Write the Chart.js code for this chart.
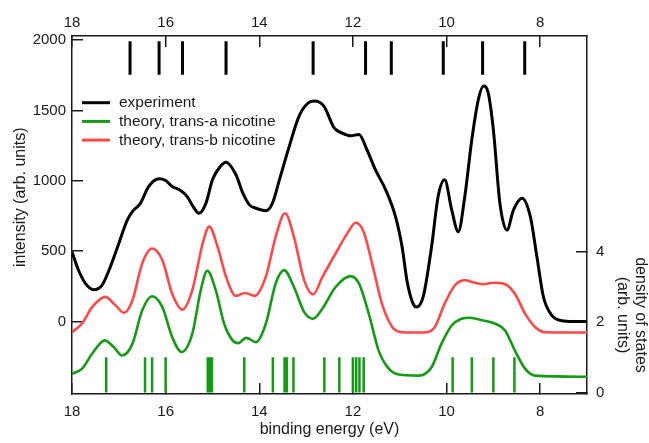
<!DOCTYPE html>
<html>
<head>
<meta charset="utf-8">
<script src="https://cdn.jsdelivr.net/npm/chart.js@4/dist/chart.umd.min.js"></script>
<style>
  body { margin: 0; background: #fff; }
</style>
</head>
<body>
<canvas id="myChart" width="649" height="443"></canvas>
<script>
// binding energy (eV) / intensity
const expEnergy = [18.0, 17.86, 17.71, 17.54, 17.36, 17.21, 17.0, 16.82, 16.71, 16.54, 16.36, 16.14, 16.0, 15.86, 15.68, 15.54, 15.39, 15.29, 15.14, 15.0, 14.85, 14.71, 14.5, 14.35, 14.21, 14.07, 13.86, 13.72, 13.57, 13.36, 13.15, 12.97, 12.83, 12.62, 12.4, 12.23, 12.05, 11.87, 11.7, 11.52, 11.3, 11.09, 10.95, 10.84, 10.72, 10.64, 10.5, 10.32, 10.18, 10.04, 9.89, 9.75, 9.61, 9.46, 9.32, 9.21, 9.11, 9.0, 8.86, 8.71, 8.57, 8.39, 8.21, 8.07, 7.93, 7.75, 7.54, 7.3, 7.0];
const expIntensity = [495, 364, 269, 226, 257, 364, 555, 721, 781, 840, 960, 1014, 1002, 960, 931, 888, 805, 769, 840, 1007, 1095, 1133, 1045, 912, 829, 805, 788, 840, 1007, 1245, 1460, 1550, 1567, 1531, 1376, 1340, 1321, 1329, 1221, 1079, 936, 745, 531, 280, 130, 102, 174, 531, 888, 1007, 793, 638, 888, 1293, 1579, 1674, 1626, 1364, 840, 650, 793, 876, 745, 460, 174, 43, 5, 0, 0];

// density of states, trans-a nicotine (green)
const transAEnergy = [18.0, 17.79, 17.57, 17.3, 17.11, 16.93, 16.71, 16.5, 16.29, 16.07, 15.86, 15.66, 15.43, 15.25, 15.11, 14.93, 14.75, 14.57, 14.45, 14.28, 14.07, 13.86, 13.65, 13.47, 13.26, 13.04, 12.85, 12.65, 12.37, 12.05, 11.87, 11.66, 11.45, 11.23, 11.02, 10.6, 10.32, 10.11, 9.89, 9.68, 9.5, 9.25, 8.96, 8.75, 8.54, 8.32, 8.11, 7.0];
const transADos = [0.53, 0.67, 1.10, 1.48, 1.29, 1.05, 1.38, 2.33, 2.73, 2.42, 1.57, 1.15, 1.67, 2.90, 3.45, 2.90, 1.95, 1.48, 1.40, 1.55, 1.43, 1.95, 3.09, 3.47, 2.99, 2.28, 2.09, 2.38, 2.99, 3.30, 3.09, 2.23, 1.19, 0.67, 0.51, 0.48, 0.72, 1.38, 1.90, 2.09, 2.12, 2.05, 1.95, 1.76, 1.19, 0.67, 0.48, 0.45];

// density of states, trans-b nicotine (red)
const transBEnergy = [18.0, 17.79, 17.57, 17.29, 17.07, 16.89, 16.71, 16.5, 16.29, 16.07, 15.86, 15.64, 15.43, 15.21, 15.07, 14.89, 14.71, 14.5, 14.3, 14.1, 13.86, 13.65, 13.45, 13.26, 13.04, 12.85, 12.65, 12.37, 12.12, 11.94, 11.77, 11.59, 11.38, 11.16, 10.95, 10.5, 10.25, 10.04, 9.82, 9.61, 9.39, 9.21, 9.0, 8.75, 8.54, 8.32, 8.11, 7.89, 7.0];
const transBDos = [1.71, 1.95, 2.42, 2.71, 2.47, 2.26, 2.61, 3.66, 4.08, 3.75, 2.80, 2.35, 2.90, 4.22, 4.70, 4.13, 3.28, 2.74, 2.82, 2.74, 3.28, 4.41, 5.08, 4.41, 3.18, 2.78, 3.28, 3.94, 4.51, 4.81, 4.55, 3.66, 2.52, 1.86, 1.71, 1.70, 1.86, 2.52, 3.04, 3.18, 3.11, 3.07, 3.11, 3.07, 2.80, 2.23, 1.86, 1.71, 1.70];

// stick spectra (eV) and their extent on the dos axis
const expSticks = [16.76, 16.14, 15.64, 14.71, 12.85, 11.73, 11.18, 10.07, 9.23, 8.33];
const expStickRange = [9.0, 9.95];
const transASticks = [17.27, 16.44, 16.29, 16.0, 15.10, 15.06, 15.01, 14.32, 13.71, 13.46, 13.41, 13.27, 12.61, 12.29, 12.0, 11.93, 11.86, 11.77, 9.87, 9.46, 9.0, 8.55];
const transAStickRange = [0, 1.0];

// ticks
const energyTicks = [18, 16, 14, 12, 10, 8];
const intensityTicks = [0, 500, 1000, 1500, 2000];
const dosTicks = [0, 2, 4];

const labels = ['experiment', 'theory, trans-a nicotine', 'theory, trans-b nicotine'];

const BLACK = '#000000';
const GREEN = '#159a15';
const RED = '#ff4848';
const INK = '#1a1a1a';
const FONT = '"Liberation Sans", Arial, sans-serif';

Chart.defaults.font.family = FONT;
Chart.defaults.color = INK;

const toPoints = (xs, ys) => xs.map((x, i) => ({ x, y: ys[i] }));
const toSticks = (xs, range) => {
  const pts = [];
  xs.forEach((x) => {
    pts.push({ x, y: range[0] }, { x, y: range[1] }, { x, y: null });
  });
  return pts;
};

const curve = (label, data, color, width, axis) => ({
  label,
  data,
  yAxisID: axis,
  borderColor: color,
  borderWidth: width,
  pointRadius: 0,
  fill: false,
  cubicInterpolationMode: 'monotone',
});

const sticks = (data, color, width) => ({
  label: '',
  data,
  yAxisID: 'y2',
  borderColor: color,
  borderWidth: width,
  pointRadius: 0,
  fill: false,
  spanGaps: false,
  borderCapStyle: 'butt',
});

const frame = { color: INK, width: 1.5 };
const tickMarks = { drawOnChartArea: false, color: INK, lineWidth: 1.5, tickLength: -11 };
const setTicks = (vals) => (scale) => { scale.ticks = vals.map((v) => ({ value: v })); };
const plain = (v) => String(v);

// custom legend inside the plot + right axis title
const extras = {
  id: 'extras',
  afterDraw(chart) {
    const { ctx } = chart;
    ctx.save();
    ctx.font = `15.5px ${FONT}`;
    ctx.textBaseline = 'middle';
    ctx.textAlign = 'left';
    labels.forEach((text, i) => {
      const y = 102.7 + i * 18.7;
      ctx.strokeStyle = chart.data.datasets[i].borderColor;
      ctx.lineWidth = 3;
      ctx.beginPath();
      ctx.moveTo(82, y);
      ctx.lineTo(110, y);
      ctx.stroke();
      ctx.fillStyle = INK;
      ctx.fillText(text, 119, y + 0.5);
    });
    ctx.font = `16px ${FONT}`;
    ctx.textAlign = 'center';
    ctx.translate(640, 315);
    ctx.rotate(Math.PI / 2);
    ctx.fillText('density of states', 0, 0);
    ctx.fillText('(arb. units)', 0, 18);
    ctx.restore();
  },
};

const config = {
  type: 'line',
  data: {
    datasets: [
      curve(labels[0], toPoints(expEnergy, expIntensity), BLACK, 3, 'y'),
      curve(labels[1], toPoints(transAEnergy, transADos), GREEN, 2.6, 'y2'),
      curve(labels[2], toPoints(transBEnergy, transBDos), RED, 2.6, 'y2'),
      sticks(toSticks(expSticks, expStickRange), BLACK, 3),
      sticks(toSticks(transASticks, transAStickRange), GREEN, 2.5),
    ],
  },
  options: {
    responsive: false,
    animation: false,
    layout: { padding: 0 },
    plugins: { legend: { display: false }, tooltip: { enabled: false } },
    scales: {
      x: {
        type: 'linear',
        position: 'bottom',
        min: 7,
        max: 18,
        reverse: true,
        afterBuildTicks: setTicks(energyTicks),
        afterFit: (s) => { s.height = 49; },
        ticks: { padding: 20, font: { size: 15 }, autoSkip: false, maxRotation: 0, callback: plain },
        grid: tickMarks,
        border: frame,
        title: { display: true, text: 'binding energy (eV)', font: { size: 16 }, padding: { top: 0, bottom: 3.4 } },
      },
      x2: {
        type: 'linear',
        position: 'top',
        min: 7,
        max: 18,
        reverse: true,
        afterBuildTicks: setTicks(energyTicks),
        afterFit: (s) => { s.height = 36; },
        ticks: { padding: 15, font: { size: 15 }, autoSkip: false, maxRotation: 0, callback: plain },
        grid: tickMarks,
        border: frame,
      },
      y: {
        type: 'linear',
        position: 'left',
        min: -516,
        max: 2030,
        afterBuildTicks: setTicks(intensityTicks),
        afterFit: (s) => { s.width = 72; },
        ticks: { padding: 17, font: { size: 15 }, callback: plain },
        grid: tickMarks,
        border: frame,
        title: { display: true, text: '        intensity (arb. units)', font: { size: 16 }, padding: { top: 11.4, bottom: 0 } },
      },
      y2: {
        type: 'linear',
        position: 'right',
        min: -0.04,
        max: 10.1,
        afterBuildTicks: setTicks(dosTicks),
        afterFit: (s) => { s.width = 62; },
        ticks: { padding: 20, font: { size: 15 }, callback: plain },
        grid: tickMarks,
        border: frame,
      },
    },
  },
  plugins: [extras],
};

const myChart = new Chart(document.querySelector('#myChart'), config);
</script>
</body>
</html>
